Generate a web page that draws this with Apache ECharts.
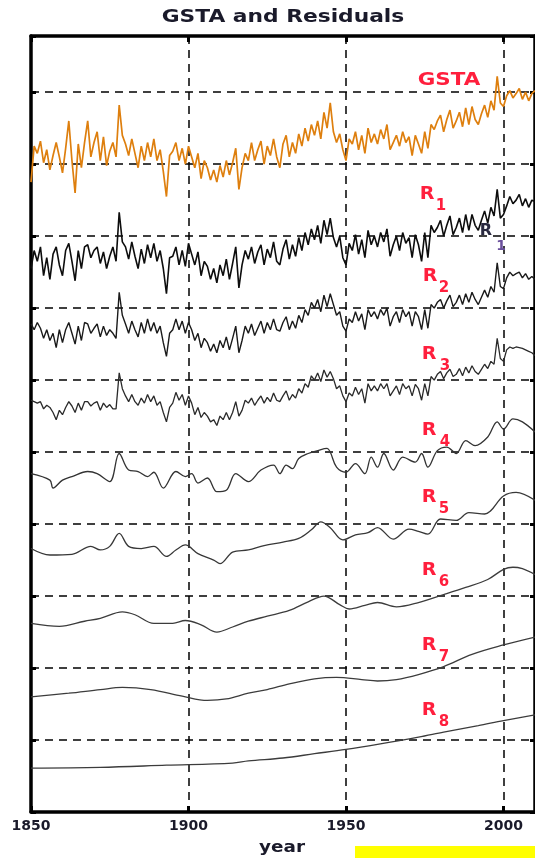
<!DOCTYPE html>
<html><head><meta charset="utf-8">
<script src="https://cdn.jsdelivr.net/npm/echarts@6/dist/echarts.min.js"></script>
<style>html,body{margin:0;padding:0;background:#fff}#c{width:535px;height:858px}</style>
</head><body><div id="c"></div>
<script>
// ---------------- DATA ----------------
const startYear = 1850;           // annual series start (1850..2010)
const xTicks = [1850, 1900, 1950, 2000];
const seriesNames = ['GSTA', 'R1', 'R2', 'R3', 'R4', 'R5', 'R6', 'R7', 'R8'];
const baselines = [9, 8, 7, 6, 5, 4, 3, 2, 1];   // each curve is drawn around its own dashed line

const gsta = [
 -0.25, 0.25, 0.15, 0.32, 0.02, 0.2, -0.08, 0.12, 0.3, 0.1,
 -0.12, 0.22, 0.6, 0.05, -0.4, 0.28, -0.05, 0.3, 0.6, 0.1,
 0.3, 0.45, 0.05, 0.38, -0.02, 0.18, 0.3, 0.1, 0.82, 0.4,
 0.28, 0.12, 0.35, 0.15, -0.05, 0.25, 0.05, 0.3, 0.1, 0.35,
 0.05, 0.2, -0.1, -0.45, 0.12, 0.18, 0.3, 0.05, 0.22, 0.0,
 0.25, 0.1, -0.05, 0.15, -0.2, 0.05, -0.05, -0.22, -0.08, -0.25,
 -0.02, -0.18, 0.05, -0.15, 0.02, 0.22, -0.35, -0.05, 0.15, 0.05,
 0.3, 0.05, 0.2, 0.32, 0.0, 0.25, 0.12, 0.35, 0.1, -0.05,
 0.28, 0.4, 0.1, 0.3, 0.15, 0.42, 0.25, 0.5, 0.32, 0.55,
 0.4, 0.6, 0.35, 0.72, 0.5, 0.85, 0.45, 0.3, 0.42, 0.2,
 0.05, 0.35, 0.28, 0.45, 0.2, 0.4, 0.15, 0.5, 0.3, 0.42,
 0.28, 0.48, 0.35, 0.55, 0.2, 0.3, 0.4, 0.25, 0.45, 0.3,
 0.38, 0.12, 0.4, 0.28, 0.15, 0.45, 0.22, 0.55, 0.48, 0.6,
 0.68, 0.45, 0.62, 0.75, 0.5, 0.6, 0.72, 0.52, 0.78, 0.55,
 0.8, 0.62, 0.55, 0.7, 0.82, 0.65, 0.88, 0.75, 1.22, 0.85,
 0.8, 0.95, 1.02, 0.92, 0.98, 1.05, 0.9, 1.0, 0.88, 0.98,
 1.02
];
const r1 = [
 -0.45, -0.2, -0.35, -0.15, -0.55, -0.3, -0.6, -0.25, -0.15, -0.4,
 -0.55, -0.2, -0.1, -0.35, -0.62, -0.2, -0.45, -0.15, -0.12, -0.3,
 -0.2, -0.15, -0.38, -0.22, -0.45, -0.28, -0.15, -0.35, 0.33, -0.08,
 -0.15, -0.32, -0.08, -0.28, -0.45, -0.18, -0.38, -0.12, -0.3, -0.1,
 -0.35, -0.2, -0.45, -0.8, -0.3, -0.28, -0.15, -0.4, -0.2, -0.42,
 -0.1, -0.25, -0.4, -0.22, -0.55, -0.35, -0.42, -0.6, -0.45, -0.65,
 -0.4, -0.55, -0.32, -0.6, -0.38, -0.15, -0.72, -0.4, -0.2, -0.32,
 -0.15, -0.38, -0.22, -0.12, -0.4, -0.18, -0.3, -0.08, -0.35, -0.4,
 -0.18, -0.05, -0.32, -0.12, -0.28, -0.02, -0.2, 0.05, -0.12, 0.1,
 -0.05, 0.15, -0.1, 0.22, 0.02, 0.25, -0.02, -0.15, 0.0, -0.3,
 -0.4, -0.1, -0.2, 0.02, -0.25, -0.05, -0.3, 0.08, -0.12, 0.0,
 -0.15, 0.05, -0.08, 0.1, -0.28, -0.12, 0.0, -0.2, 0.05, -0.1,
 -0.02, -0.3, 0.02, -0.12, -0.35, 0.05, -0.3, 0.15, 0.05, 0.12,
 0.22, 0.0, 0.15, 0.28, 0.02, 0.12, 0.25, 0.05, 0.3, 0.08,
 0.3, 0.15, 0.08, 0.22, 0.35, 0.18, 0.4, 0.28, 0.65, 0.25,
 0.3, 0.42, 0.55, 0.45, 0.5, 0.58, 0.42, 0.52, 0.4, 0.5,
 0.48
];
const r2 = [
 -0.22, -0.3, -0.2, -0.28, -0.42, -0.3, -0.45, -0.35, -0.55, -0.3,
 -0.48, -0.3, -0.2, -0.35, -0.5, -0.25, -0.45, -0.2, -0.22, -0.35,
 -0.28, -0.22, -0.4, -0.25, -0.38, -0.3, -0.35, -0.42, 0.22, -0.1,
 -0.22, -0.35, -0.18, -0.3, -0.4, -0.2, -0.35, -0.15, -0.32, -0.2,
 -0.35, -0.25, -0.48, -0.67, -0.35, -0.3, -0.15, -0.3, -0.18, -0.35,
 -0.2, -0.3, -0.45, -0.35, -0.55, -0.42, -0.48, -0.6, -0.5, -0.62,
 -0.45, -0.55, -0.4, -0.58, -0.42, -0.25, -0.62, -0.45, -0.25, -0.35,
 -0.22, -0.38, -0.28, -0.18, -0.35, -0.2, -0.3, -0.15, -0.3, -0.32,
 -0.2, -0.12, -0.3, -0.18, -0.28, -0.1, -0.2, -0.02, -0.1, 0.08,
 0.0, 0.12, -0.05, 0.18, 0.02, 0.2, 0.05, -0.1, -0.05, -0.25,
 -0.32, -0.15, -0.2, -0.05, -0.18, -0.08, -0.3, -0.02, -0.12, -0.05,
 -0.15, -0.02, -0.1, 0.0, -0.25, -0.12, -0.05, -0.2, -0.02, -0.12,
 -0.05, -0.25, -0.05, -0.12, -0.3, -0.02, -0.28, 0.05, 0.0, 0.08,
 0.12, 0.0, 0.1, 0.18, 0.02, 0.08, 0.18, 0.05, 0.2, 0.08,
 0.22, 0.12, 0.05, 0.15, 0.25, 0.15, 0.3, 0.22, 0.63, 0.3,
 0.27, 0.42, 0.5, 0.45, 0.48, 0.5, 0.42, 0.48, 0.4, 0.44,
 0.4
];
const r3 = [
 -0.28, -0.3, -0.32, -0.3, -0.4, -0.35, -0.38, -0.45, -0.55, -0.42,
 -0.48, -0.38, -0.3, -0.36, -0.45, -0.32, -0.42, -0.3, -0.3, -0.36,
 -0.32, -0.3, -0.42, -0.32, -0.38, -0.34, -0.4, -0.4, 0.1, -0.12,
 -0.22, -0.3, -0.2, -0.3, -0.35, -0.25, -0.32, -0.2, -0.3, -0.22,
 -0.35, -0.3, -0.45, -0.58, -0.38, -0.32, -0.17, -0.28, -0.2, -0.35,
 -0.22, -0.32, -0.48, -0.38, -0.52, -0.45, -0.5, -0.58, -0.55, -0.63,
 -0.5, -0.55, -0.45, -0.55, -0.45, -0.3, -0.5, -0.42, -0.28, -0.32,
 -0.25, -0.35, -0.28, -0.22, -0.32, -0.24, -0.3, -0.18, -0.28, -0.3,
 -0.22, -0.15, -0.28, -0.2, -0.25, -0.12, -0.18, -0.05, -0.1, 0.06,
 0.0, 0.1, -0.02, 0.14, 0.04, 0.12, 0.02, -0.12, -0.08, -0.22,
 -0.3, -0.18, -0.22, -0.1, -0.2, -0.12, -0.32, -0.05, -0.15, -0.08,
 -0.15, -0.05, -0.12, -0.05, -0.22, -0.15, -0.08, -0.2, -0.05, -0.12,
 -0.08, -0.22, -0.06, -0.12, -0.28, -0.05, -0.22, 0.05, 0.0, 0.08,
 0.12, 0.02, 0.1, 0.15, 0.05, 0.08, 0.16, 0.06, 0.18, 0.1,
 0.2, 0.12, 0.08, 0.15, 0.22, 0.16, 0.26, 0.22, 0.58, 0.3,
 0.26, 0.42, 0.46, 0.44, 0.46, 0.45, 0.44, 0.42, 0.4, 0.38,
 0.34
];
const r4Years = [1850,1856,1857,1860,1863,1868,1871,1875,1878,1881,1884,1887,1889,1892,1896,1899,1901,1903,1906,1909,1912,1915,1919,1923,1927,1929,1931,1933,1935,1938,1941,1944,1945,1947,1950,1953,1956,1958,1960,1962,1965,1968,1972,1974,1976,1979,1982,1985,1988,1991,1995,1998,2000,2003,2006,2010];
const r4Vals  = [-0.3,-0.39,-0.5,-0.39,-0.34,-0.27,-0.3,-0.41,-0.02,-0.25,-0.27,-0.34,-0.28,-0.5,-0.27,-0.34,-0.3,-0.43,-0.36,-0.55,-0.53,-0.3,-0.41,-0.25,-0.18,-0.3,-0.18,-0.23,-0.09,-0.02,0.02,0.05,0.0,-0.21,-0.28,-0.16,-0.3,-0.07,-0.21,-0.02,-0.25,-0.07,-0.14,-0.02,-0.21,0.02,0.07,-0.02,0.16,0.09,0.21,0.42,0.32,0.46,0.42,0.28];
const r5Years = [1850,1856,1863,1869,1872,1875,1878,1881,1885,1889,1893,1896,1899,1903,1908,1910,1914,1919,1924,1930,1935,1939,1942,1945,1949,1953,1957,1960,1965,1970,1973,1976,1980,1985,1989,1994,2000,2004,2010];
const r5Vals  = [-0.34,-0.43,-0.42,-0.31,-0.36,-0.31,-0.13,-0.31,-0.34,-0.31,-0.45,-0.36,-0.29,-0.41,-0.5,-0.55,-0.39,-0.36,-0.3,-0.25,-0.2,-0.08,0.03,-0.05,-0.22,-0.15,-0.12,-0.05,-0.21,-0.07,-0.1,-0.14,0.07,0.05,0.16,0.14,0.39,0.44,0.33];
const r6Years = [1850,1859,1867,1872,1879,1883,1889,1895,1899,1904,1909,1914,1919,1925,1932,1938,1943,1948,1951,1956,1960,1966,1973,1981,1988,1995,2000,2003,2006,2010];
const r6Vals  = [-0.38,-0.42,-0.35,-0.31,-0.22,-0.26,-0.38,-0.38,-0.34,-0.4,-0.5,-0.43,-0.35,-0.28,-0.2,-0.08,0.0,-0.12,-0.18,-0.13,-0.09,-0.15,-0.09,0.02,0.12,0.23,0.37,0.4,0.38,0.3];
const r7Years = [1850,1862,1872,1879,1888,1898,1906,1912,1919,1925,1932,1940,1947,1955,1960,1966,1973,1981,1990,2000,2010];
const r7Vals  = [-0.4,-0.35,-0.3,-0.27,-0.3,-0.39,-0.45,-0.43,-0.35,-0.3,-0.22,-0.15,-0.13,-0.16,-0.18,-0.16,-0.09,0.02,0.19,0.32,0.43];
const r8Years = [1850,1872,1893,1914,1919,1930,1940,1950,1960,1973,1981,1992,2000,2010];
const r8Vals  = [-0.39,-0.38,-0.35,-0.32,-0.29,-0.25,-0.19,-0.13,-0.06,0.04,0.11,0.2,0.27,0.35];

// ---------------- BUILD ----------------
const annual = [gsta, r1, r2, r3];
const irregular = [[r4Years, r4Vals], [r5Years, r5Vals], [r6Years, r6Vals], [r7Years, r7Vals], [r8Years, r8Vals]];

const lineColors = ['#de7f0e', '#0d0d0d', '#1a1a1a', '#2a2a2a', '#333', '#383838', '#3c3c3c', '#3c3c3c', '#3c3c3c'];
const lineWidths = [1.7, 1.6, 1.4, 1.3, 1.3, 1.3, 1.3, 1.3, 1.3];

const series = [];
annual.forEach((arr, k) => {
  series.push({
    name: seriesNames[k], type: 'line', showSymbol: false, silent: true, z: 5,
    data: arr.map((v, i) => [startYear + i, v + baselines[k]]),
    lineStyle: { color: lineColors[k], width: lineWidths[k] }
  });
});
irregular.forEach(([yrs, vals], j) => {
  const k = j + 4;
  series.push({
    name: seriesNames[k], type: 'line', showSymbol: false, silent: true, z: 5,
    smooth: 0.35,
    data: yrs.map((y, i) => [y, vals[i] + baselines[k]]),
    lineStyle: { color: lineColors[k], width: lineWidths[k] }
  });
});

const red = '#ff1f3d';
const dark = '#1a1a2a';
const txt = (text, x, y, font, fill, sx) => ({
  type: 'text', x: x, y: y, scaleX: sx || 1, z: 100, silent: true,
  style: { text: text, font: font, fill: fill, align: 'center', verticalAlign: 'middle',
           textAlign: 'center', textVerticalAlign: 'middle' }
});
const fR = 'bold 17px "DejaVu Sans"';
const fS = 'bold 15px "DejaVu Sans"';
const rPos = [[427, 195, 441, 206], [430, 277, 444, 288], [429, 355, 445, 366], [429, 431, 445, 442],
              [429, 498, 444, 509], [429, 571, 444, 582], [429, 646, 444, 657], [429, 711, 444, 722]];
const graphics = [
  txt('GSTA and Residuals', 283, 18, 'bold 17px "DejaVu Sans"', dark, 1.28),
  txt('year', 282, 848, 'bold 16px "DejaVu Sans"', dark, 1.15),
  txt(seriesNames[0], 449, 81, fR, red, 1.26),
  { type: 'rect', shape: { x: 355, y: 846, width: 180, height: 12 }, style: { fill: '#ffff00' }, z: 100, silent: true }
];
rPos.forEach((p, i) => {
  const name = seriesNames[i + 1];
  graphics.push(txt(name.charAt(0), p[0], p[1], fR, red, 1.12));
  graphics.push(txt(name.slice(1), p[2], p[3], fS, red, 1));
});
// stray duplicate "R1" mark seen in the original image
graphics.push(txt('R', 486, 231, 'bold 16px "DejaVu Sans"', '#2a2a40', 1.0));
graphics.push(txt('1', 501, 246, 'bold 14px "DejaVu Sans"', '#6a4f9c', 1));

const dash = { type: [8, 6], color: '#000', width: 1.5 };
const axLine = { show: true, onZero: false, lineStyle: { color: '#000', width: 3.5 } };
const tickX = { show: true, inside: true, length: 6, lineStyle: { color: '#000', width: 3 } };
const tickY = { show: true, inside: true, length: 5, lineStyle: { color: '#000', width: 3 } };

const chart = echarts.init(document.getElementById('c'));
chart.setOption({
  animation: false,
  backgroundColor: '#fff',
  grid: { left: 31, right: -3, top: 36, bottom: 46, containLabel: false },
  xAxis: [
    { type: 'value', position: 'bottom', min: xTicks[0], max: 2010, interval: 50,
      axisLine: axLine, axisTick: tickX,
      axisLabel: { show: true, showMaxLabel: false, margin: 7, color: dark,
                   formatter: v => String(Math.round(v)),
                   fontFamily: 'DejaVu Sans', fontWeight: 'bold', fontSize: 14 },
      splitLine: { show: true, lineStyle: dash } },
    { type: 'value', position: 'top', min: xTicks[0], max: 2010, interval: 50,
      axisLine: axLine, axisTick: tickX, axisLabel: { show: false }, splitLine: { show: false } }
  ],
  yAxis: [
    { type: 'value', position: 'left', min: 0, max: 10.78, interval: 1,
      axisLine: axLine, axisTick: tickY, axisLabel: { show: false },
      splitLine: { show: true, lineStyle: dash } },
    { type: 'value', position: 'right', min: 0, max: 10.78, interval: 1,
      axisLine: axLine, axisTick: tickY, axisLabel: { show: false }, splitLine: { show: false } }
  ],
  series: series,
  graphic: graphics
});
</script>
</body></html>
